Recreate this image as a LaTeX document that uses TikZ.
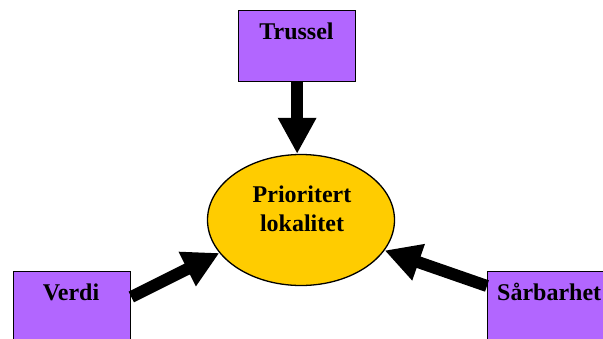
\documentclass[tikz,border=0pt]{standalone}
\usepackage{fontspec}
\setmainfont{Liberation Serif}
\usetikzlibrary{arrows.meta,shapes.geometric}
\definecolor{boxpurple}{RGB}{178,102,255}
\definecolor{prioyellow}{RGB}{255,204,0}
\tikzset{
  box/.style={draw=black, line width=1.3pt, fill=boxpurple, rectangle, minimum width=117pt, minimum height=71pt, inner sep=0pt},
  lbl/.style={font=\fontsize{24}{29}\selectfont\bfseries, inner sep=0pt, text=black},
  prio/.style={draw=black, line width=1.3pt, fill=prioyellow, ellipse, minimum width=187pt, minimum height=131pt, inner sep=0pt},
  bigarrow/.style={line width=12pt, -{Triangle[width=36pt,length=36pt]}, black}
}
\begin{document}
\begin{tikzpicture}[x=1pt,y=-1pt]
\useasboundingbox (0,0) rectangle (603,338);
\node[box, anchor=north west] (trussel) at (238,10) {};
\node[lbl] (trusselT) at (296.5,31) {Trussel};
\node[box, anchor=north west] (verdi) at (13,271) {};
\node[lbl] (verdiT) at (71,292) {Verdi};
\node[box, anchor=north west] (sarb) at (487,271) {};
\node[lbl, anchor=west] (sarbT) at (497,292) {Sårbarhet};
\node[prio] (pri) at (301,220) {};
\node[lbl, align=center] (priT) at (302,209) {Prioritert\\lokalitet};
\draw[bigarrow] (trussel.south) -- (trussel.south |- pri.north);
\draw[bigarrow] ([yshift=-26pt]verdi.north east) -- (pri.202);
\draw[bigarrow] ([yshift=-15pt]sarb.north west) -- (pri.340);
\end{tikzpicture}
\end{document}
